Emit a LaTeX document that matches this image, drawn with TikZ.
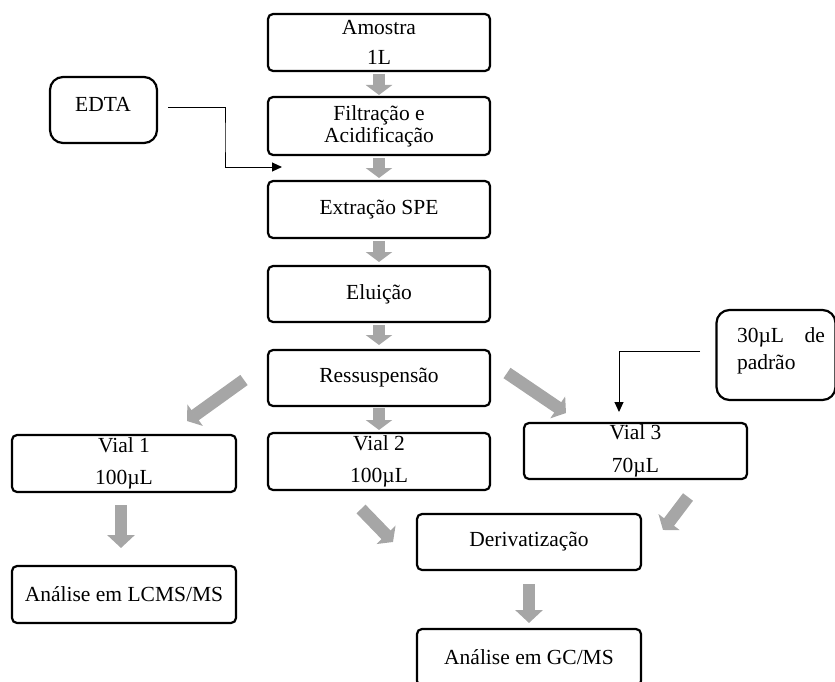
\documentclass[tikz,border=0pt]{standalone}
\usepackage{fontspec}
\setmainfont{Liberation Serif}
\usetikzlibrary{arrows.meta,calc}
\begin{document}
\begin{tikzpicture}[x=1pt,y=-1pt,
  box/.style={draw=black,line width=2.2pt,rounded corners=5pt,minimum width=222pt,minimum height=57pt,inner sep=0pt,align=center,font=\fontsize{21.5}{30}\selectfont},
  sidebox/.style={draw=black,line width=2.2pt,rounded corners=13pt,inner sep=0pt,align=center,font=\fontsize{21.5}{27}\selectfont},
  garrow/.style={draw={rgb,255:red,166;green,166;blue,166},line width=12.5pt,-{Triangle[length=10pt,width=26pt,fill={rgb,255:red,166;green,166;blue,166}]}},
  thinarrow/.style={draw=black,line width=1pt,-{Triangle[length=10pt,width=9pt]}}
]
\useasboundingbox (0,0) rectangle (835,682);
% main column
\node[box] (amostra) at (379,42.5) {Amostra\\1L};
\node[box,minimum height=58pt,font=\fontsize{21.5}{22}\selectfont] (filtr) at (379,126) {Filtração e\\Acidificação};
\node[box] (spe) at (379,209.5) {Extração SPE};
\node[box,minimum height=56pt] (elu) at (379,294) {Eluição};
\node[box,minimum height=56pt] (ress) at (379,378) {Ressuspensão};
\node[box,minimum width=224pt,font=\fontsize{21.5}{32}\selectfont] (vial1) at (124,463.5) {Vial 1\\100µL};
\node[box,font=\fontsize{21.5}{32}\selectfont] (vial2) at (379,461.5) {Vial 2\\100µL};
\node[box,minimum width=223pt,minimum height=56pt,font=\fontsize{21.5}{33}\selectfont] (vial3) at (635.5,451) {Vial 3\\70µL};
\node[box,minimum width=224pt,minimum height=56pt] (deriv) at (529,542) {Derivatização};
\node[box,minimum width=224pt] (lcms) at (124,594.5) {Análise em LCMS/MS};
\node[box,minimum width=224pt] (gcms) at (529,657.5) {Análise em GC/MS};
% side boxes
\node[sidebox,minimum width=107pt,minimum height=66pt,anchor=center] (edta) at (103.5,110) {};
\node[font=\fontsize{21.5}{27}\selectfont] (edtatxt) at (103,104) {EDTA};
\node[sidebox,minimum width=119pt,minimum height=90pt] (padrao) at (776,355) {};
\node[font=\fontsize{21.5}{27}\selectfont,align=left,inner sep=0pt] (padraotxt) at (781,351) {\parbox{88pt}{30µL\hfill de\\padrão}};
% gray block arrows
\coordinate (g1a) at (379,74);  \coordinate (g1b) at (379,95);
\coordinate (g2a) at (379,158); \coordinate (g2b) at (379,178);
\coordinate (g3a) at (379,241); \coordinate (g3b) at (379,262);
\coordinate (g4a) at (379,325); \coordinate (g4b) at (379,345);
\coordinate (g5a) at (379,408); \coordinate (g5b) at (379,430);
\coordinate (g6a) at (244,380); \coordinate (g6b) at (187,421);
\coordinate (g7a) at (507,373); \coordinate (g7b) at (566,413);
\coordinate (g8a) at (121,505); \coordinate (g8b) at (121,548);
\coordinate (g9a) at (361,509); \coordinate (g9b) at (393,542);
\coordinate (g10a) at (688,497); \coordinate (g10b) at (663,530);
\coordinate (g11a) at (529,584); \coordinate (g11b) at (529,623);
\draw[garrow] (g1a) -- (g1b);
\draw[garrow] (g2a) -- (g2b);
\draw[garrow] (g3a) -- (g3b);
\draw[garrow] (g4a) -- (g4b);
\draw[garrow] (g5a) -- (g5b);
\draw[garrow] (g6a) -- (g6b);
\draw[garrow] (g7a) -- (g7b);
\draw[garrow,-{Triangle[length=13pt,width=27pt,fill={rgb,255:red,166;green,166;blue,166}]}] (g8a) -- (g8b);
\draw[garrow] (g9a) -- (g9b);
\draw[garrow] (g10a) -- (g10b);
\draw[garrow,-{Triangle[length=13pt,width=27pt,fill={rgb,255:red,166;green,166;blue,166}]}] (g11a) -- (g11b);
% thin arrows
\coordinate (e1) at (168,108);
\coordinate (e3) at (282,167);
\draw[thinarrow] (e1) -| ($(e1)!0.5!(e3)$) |- (e3);
\coordinate (p1) at (700,351);
\coordinate (p2) at (619,412);
\draw[thinarrow] (p1) -| (p2);
\end{tikzpicture}
\end{document}
